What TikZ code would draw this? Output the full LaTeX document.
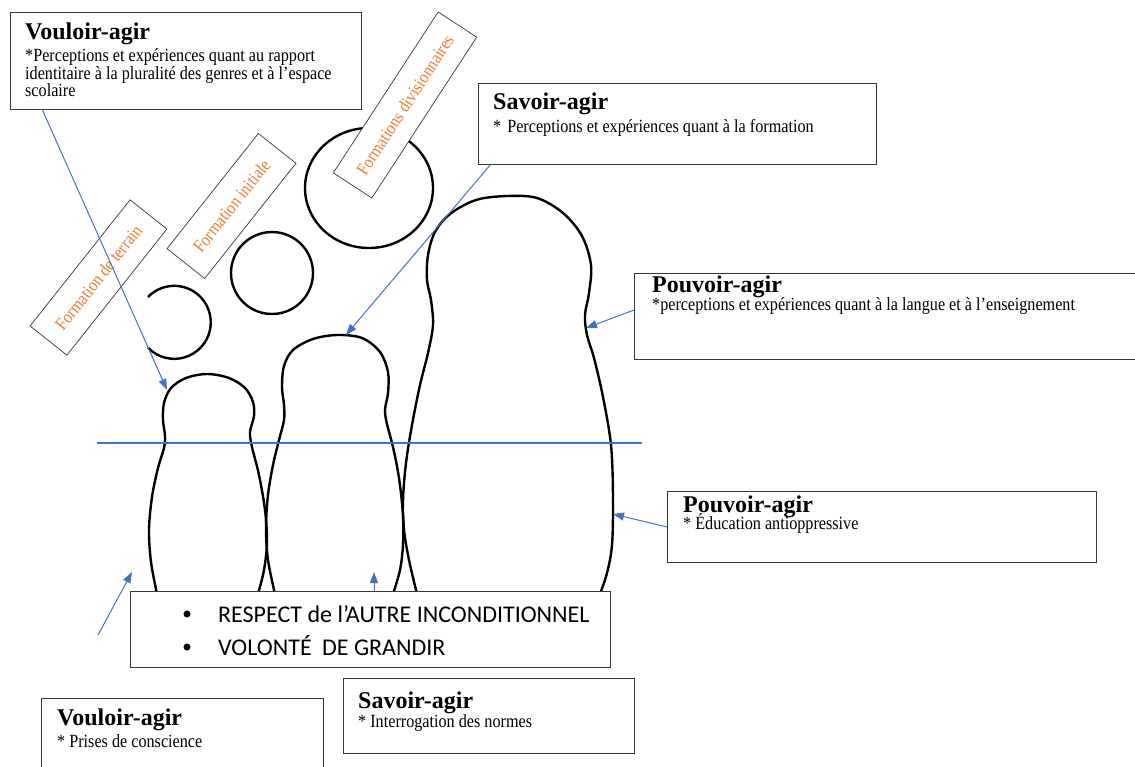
\documentclass[tikz,border=0pt]{standalone}
\usepackage{fontspec}
\setmainfont{Liberation Serif}
\newfontfamily\narrowserif[FakeStretch=0.87]{Liberation Serif}
\newfontfamily\calibfont{Carlito}
\usetikzlibrary{arrows.meta}
\definecolor{linkblue}{RGB}{68,114,196}
\definecolor{tagorange}{RGB}{237,125,49}
\definecolor{framegray}{RGB}{55,55,55}

\begin{document}
\begin{tikzpicture}[x=1pt,y=-1pt,
  frame/.style={draw=framegray, line width=1.1pt, fill=white, inner sep=0pt, anchor=north west},
  ttl/.style={anchor=base west, inner sep=0pt, font=\fontsize{24}{26}\selectfont\bfseries},
  body/.style={anchor=base west, inner sep=0pt, font=\narrowserif\fontsize{18.6}{20}\selectfont},
  tag/.style={draw=framegray, line width=0.7pt, fill=white, inner sep=0pt, text=tagorange,
    font=\narrowserif\fontsize{18}{20}\selectfont},
  doll/.style={line width=2.4pt, line join=round, line cap=round},
  ring/.style={line width=2.4pt},
  link/.style={draw=linkblue, line width=1pt, -{Triangle[length=11pt,width=8pt]}},
  guide/.style={draw=linkblue, line width=1.2pt},
  bul/.style={circle, fill=black, inner sep=0pt, minimum size=7pt},
  resp/.style={anchor=base west, inner sep=0pt, font=\calibfont\fontsize{24}{28}\selectfont},
]
\useasboundingbox (0,0) rectangle (1135,767);
\clip (0,0) rectangle (1135,767);

% open ring and the two circles
\draw[ring] (148,297) arc[start angle=-136, end angle=136, radius=36.5];
\draw[ring] (272,273) circle[radius=41];
\draw[ring] (369,188) ellipse[x radius=64, y radius=60];

% the three nesting dolls
\draw[doll] plot[smooth, tension=0.55] coordinates {
  (157,594) (151,562) (149,530) (152,497) (158,468) (164,448) (165,436)
  (163,420) (164,403) (171,388) (186,378) (207,374) (229,378) (245,388)
  (253,402) (254,416) (250,432) (252,447) (259,475) (265,510) (267,542)
  (264,570) (258,594)};
\draw[doll] plot[smooth, tension=0.55] coordinates {
  (275,594) (268,560) (266,528) (268,495) (273,465) (279,440) (284,420)
  (284,405) (282,387) (284,366) (293,350) (313,339) (337,335) (362,338)
  (380,352) (388,372) (388,393) (385,410) (387,424) (393,447) (399,478)
  (403,515) (403,545) (400,570) (393,594)};
\draw[doll] plot[smooth, tension=0.55] coordinates {
  (417,594) (409,560) (404,530) (403,500) (406,463) (412,425) (420,385)
  (428,353) (433,325) (431,300) (427,280) (428,255) (435,232) (450,214)
  (476,200) (507,196) (537,198) (563,213) (582,236) (591,265) (589,293)
  (585,315) (587,335) (594,358) (603,397) (611,445) (613,497) (612,545)
  (607,573) (600,594)};

% tilted training labels
\node[tag, rotate=51.6, minimum width=161pt, minimum height=47pt] (terrain) at (98.5,277.5) {Formation de terrain};
\node[tag, rotate=51.6, minimum width=147pt, minimum height=48pt] (initiale) at (231.5,206) {Formation initiale};
\node[tag, rotate=56.9, minimum width=192pt, minimum height=46pt] (divis) at (405,105) {Formations divisionnaires};

% text boxes
\node[frame, minimum width=351pt, minimum height=97pt] (vtop) at (10,12) {};
\node[ttl] (vtopT) at (25,40) {Vouloir-agir};
\node[body] (vtopA) at (25,62) {*Perceptions et expériences quant au rapport};
\node[body] (vtopB) at (25,79.5) {identitaire à la pluralité des genres et à l’espace};
\node[body] (vtopC) at (25,97) {scolaire};

\node[frame, minimum width=398pt, minimum height=81pt] (stop) at (478,83) {};
\node[ttl] (stopT) at (493,110) {Savoir-agir};
\node[body] (stopA) at (493,133) {*\hspace{6pt}Perceptions et expériences quant à la formation};

\node[frame, minimum width=510pt, minimum height=86pt] (ptop) at (634,273) {};
\node[ttl] (ptopT) at (652,293) {Pouvoir-agir};
\node[body] (ptopA) at (652,310) {*perceptions et expériences quant à la langue et à l’enseignement};

\node[frame, minimum width=429pt, minimum height=71pt] (pmid) at (667,491) {};
\node[ttl] (pmidT) at (683,512) {Pouvoir-agir};
\node[body] (pmidA) at (683,529) {* Éducation antioppressive};

\node[frame, minimum width=480pt, minimum height=76pt] (respect) at (130,591) {};
\node[bul] (b1) at (187,614) {};
\node[bul] (b2) at (187,647) {};
\node[resp] (r1) at (218,622) {RESPECT de l’AUTRE INCONDITIONNEL};
\node[resp] (r2) at (218,655) {VOLONTÉ\hspace{5pt} DE GRANDIR};

\node[frame, minimum width=282pt, minimum height=90pt] (vbot) at (41,698) {};
\node[ttl] (vbotT) at (57,725) {Vouloir-agir};
\node[body] (vbotA) at (57,747) {* Prises de conscience};

\node[frame, minimum width=291pt, minimum height=75pt] (sbot) at (343,678) {};
\node[ttl] (sbotT) at (358,708) {Savoir-agir};
\node[body] (sbotA) at (358,727) {* Interrogation des normes};

% anchor points of the blue pointers
\coordinate (vtopOut) at (42,109);
\coordinate (smallHead) at (167,390);
\coordinate (stopOut) at (491,164);
\coordinate (midTop) at (346,335);
\coordinate (ptopOut) at (634,310);
\coordinate (bigNeck) at (586,328);
\coordinate (pmidOut) at (667,527);
\coordinate (bigBody) at (613,514);
\coordinate (leftTail) at (98,635);
\coordinate (leftTip) at (132,572);
\coordinate (respOut) at (374,591);
\coordinate (respTip) at (374,572);
\coordinate (lineL) at (97,443);
\coordinate (lineR) at (642,443);

\draw[link] (vtopOut) -- (smallHead);
\draw[link] (stopOut) -- (midTop);
\draw[link] (ptopOut) -- (bigNeck);
\draw[link] (pmidOut) -- (bigBody);
\draw[link] (leftTail) -- (leftTip);
\draw[link] (respOut) -- (respTip);
\draw[guide] (lineL) -- (lineR);
\end{tikzpicture}
\end{document}
